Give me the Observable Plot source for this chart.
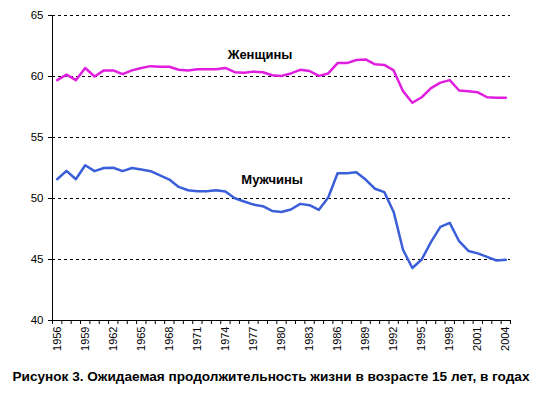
<!DOCTYPE html>
<html>
<head>
<meta charset="utf-8">
<script src="https://cdn.jsdelivr.net/npm/d3@7"></script>
<script src="https://cdn.jsdelivr.net/npm/@observablehq/plot@0.6"></script>
<style>
  body { margin: 0; background: #fff; }
  #wrap { width: 542px; }
  #caption { font: bold 13.6px "Liberation Sans", Arial, sans-serif; text-align: center; color: #000; margin-top: 9px; white-space: nowrap; }
</style>
</head>
<body>
<div id="wrap"></div>
<script>
const years = d3.range(1956, 2005);
const women = [59.7, 60.15, 59.7, 60.7, 60.0, 60.5, 60.5, 60.2, 60.5, 60.7,
  60.85, 60.8, 60.8, 60.55, 60.5, 60.6, 60.6, 60.6, 60.7, 60.35,
  60.3, 60.4, 60.35, 60.1, 60.05, 60.25, 60.55, 60.45, 60.05, 60.25,
  61.1, 61.1, 61.35, 61.4, 61.0, 60.95, 60.5, 58.8, 57.85, 58.3,
  59.05, 59.5, 59.7, 58.85, 58.8, 58.7, 58.3, 58.25, 58.25];
const men = [51.58, 52.27, 51.58, 52.73, 52.24, 52.5, 52.52, 52.24, 52.5, 52.37,
  52.24, 51.9, 51.55, 50.95, 50.68, 50.6, 50.6, 50.68, 50.57, 50.02,
  49.75, 49.5, 49.37, 48.98, 48.9, 49.1, 49.56, 49.45, 49.07, 50.08,
  52.07, 52.07, 52.15, 51.55, 50.8, 50.52, 48.9, 45.8, 44.3, 45.0,
  46.44, 47.67, 48.0, 46.5, 45.7, 45.5, 45.22, 44.92, 44.97];
const labelYears = d3.range(1956, 2005, 3);
const yTicks = [40, 45, 50, 55, 60, 65];
const gridTicks = [45, 50, 55, 60, 65];
const seriesNames = ["Женщины", "Мужчины"];
const captionText = "Рисунок 3. Ожидаемая продолжительность жизни в возрасте 15 лет, в годах";

const womenData = years.map((y, i) => ({year: y, value: women[i]}));
const menData = years.map((y, i) => ({year: y, value: men[i]}));
const boundaries = d3.range(1955.5, 2005, 1);

const font = '"Liberation Sans", Arial, sans-serif';

const chart = Plot.plot({
  width: 542,
  height: 360,
  marginLeft: 52,
  marginRight: 32,
  marginTop: 15,
  marginBottom: 40,
  style: {fontFamily: font, fontSize: "11px", color: "#000", background: "#fff"},
  x: {domain: [1955.5, 2004.5]},
  y: {domain: [40, 65]},
  marks: [
    Plot.ruleY(gridTicks, {stroke: "#000", strokeDasharray: "3,3", strokeWidth: 1}),
    Plot.axisY({ticks: yTicks, tickSize: 4, tickPadding: 5, label: null, fontSize: 11.5}),
    Plot.axisX({ticks: boundaries, tickSize: 4, tickFormat: () => "", label: null}),
    Plot.axisX({ticks: labelYears, tickSize: 0, tickPadding: 6, tickRotate: -90, tickFormat: d => String(d), label: null, fontSize: 11}),
    Plot.ruleX([1955.5], {stroke: "#000", strokeWidth: 1}),
    Plot.ruleY([40], {stroke: "#000", strokeWidth: 1}),
    Plot.line(womenData, {x: "year", y: "value", stroke: "#e01ee0", strokeWidth: 2.5}),
    Plot.line(menData, {x: "year", y: "value", stroke: "#3a5fd8", strokeWidth: 2.5}),
    Plot.text([{year: 1977.7, value: 61.8, t: seriesNames[0]}], {x: "year", y: "value", text: "t", fontWeight: "bold", fontSize: 13, fill: "#000"}),
    Plot.text([{year: 1979.0, value: 51.5, t: seriesNames[1]}], {x: "year", y: "value", text: "t", fontWeight: "bold", fontSize: 13, fill: "#000"})
  ]
});
const wrap = document.getElementById("wrap");
wrap.appendChild(chart);
const cap = document.createElement("div");
cap.id = "caption";
cap.textContent = captionText;
wrap.appendChild(cap);
</script>
</body>
</html>
